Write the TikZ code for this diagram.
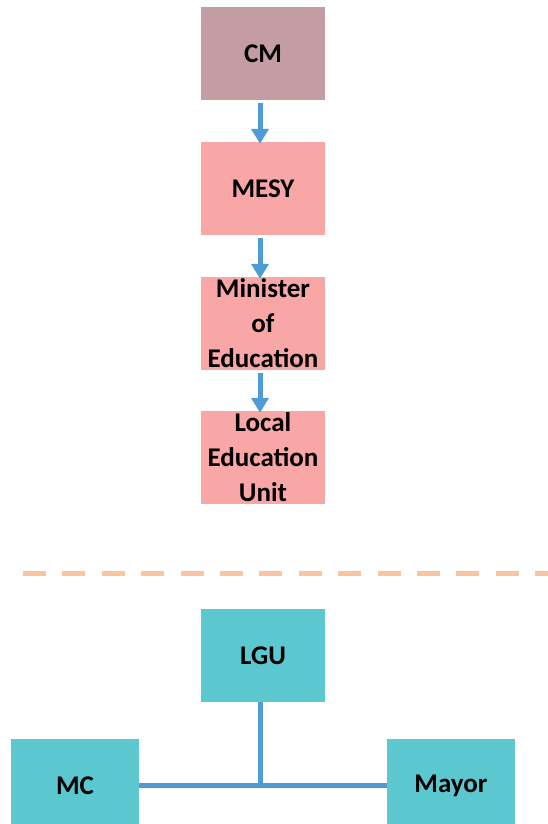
\documentclass[tikz,border=0pt]{standalone}
\usepackage{fontspec}
\setmainfont{Carlito}
\usetikzlibrary{arrows.meta}
\definecolor{cmfill}{RGB}{196,157,164}
\definecolor{pinkfill}{RGB}{248,166,166}
\definecolor{tealfill}{RGB}{91,200,208}
\definecolor{linkblue}{RGB}{79,155,213}
\definecolor{peach}{RGB}{248,197,160}
\tikzset{
  orgbox/.style={draw=none, minimum width=124pt, minimum height=93pt, inner sep=0pt,
    align=center, font=\fontsize{27}{35}\selectfont\bfseries, text=black},
  flowarrow/.style={draw=linkblue, line width=5pt,
    -{Triangle[width=17pt,length=15pt]}, shorten <=3pt, shorten >=-2pt},
  link/.style={draw=linkblue, line width=5pt},
  divider/.style={draw=peach, line width=5pt, dash pattern=on 23pt off 16.4pt}
}
\begin{document}
\begin{tikzpicture}[x=1pt,y=1pt]
\useasboundingbox (0,0) rectangle (548,-824);
\clip (0,0) rectangle (548,-824);

% upper chain
\node[orgbox, fill=cmfill]   (cm)    at (263,-53.5)  {CM};
\node[orgbox, fill=pinkfill] (mesy)  at (263,-188.5) {MESY};
\node[orgbox, fill=pinkfill] (moe)   at (263,-323.5) {Minister\\of\\Education};
\node[orgbox, fill=pinkfill] (leu)   at (263,-457.5) {Local\\Education\\Unit};

\draw[flowarrow] ([xshift=-3pt]cm.south)   -- ([xshift=-3pt]mesy.north);
\draw[flowarrow] ([xshift=-3pt]mesy.south) -- ([xshift=-3pt]moe.north);
\draw[flowarrow] ([xshift=-3pt]moe.south)  -- ([xshift=-3pt]leu.north);

% separator
\coordinate (sepL) at (23,-573);
\coordinate (sepR) at (560,-573);
\draw[divider] (sepL) -- (sepR);

% lower group
\node[orgbox, fill=tealfill] (lgu)   at (263,-655.5) {LGU};
\node[orgbox, fill=tealfill, minimum width=128pt] (mc)    at (75,-785.5)  {MC};
\node[orgbox, fill=tealfill, minimum width=128pt] (mayor) at (451,-785.5) {Mayor};

\coordinate (junction) at ([xshift=-2.5pt]lgu.south |- mc.east);
\draw[link] ([xshift=-2.5pt]lgu.south) -- ([yshift=-2.5pt]junction);
\draw[link] (mc.east) -- (mayor.west);
\end{tikzpicture}
\end{document}
